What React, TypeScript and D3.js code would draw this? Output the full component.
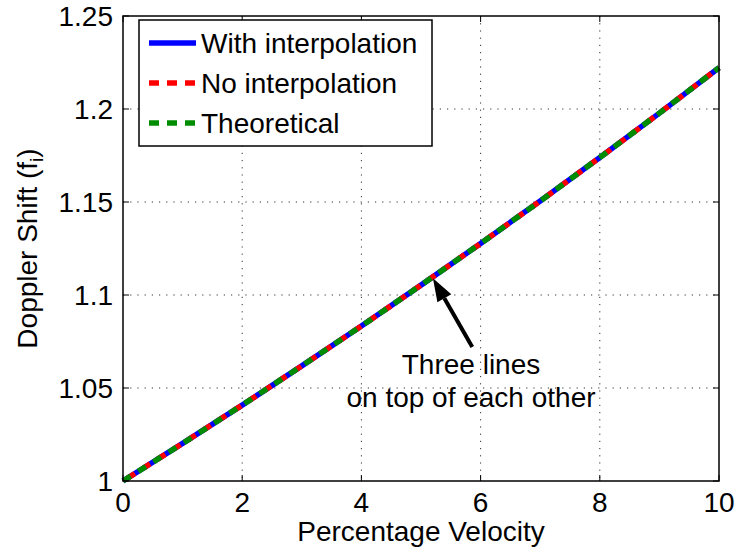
import React from "react";
import * as d3 from "d3";

const velocity = [0, 1, 2, 3, 4, 5, 6, 7, 8, 9, 10];
const withInterp = [1.0, 1.0202, 1.0408, 1.0619, 1.0833, 1.1053, 1.1277, 1.1505, 1.1739, 1.1978, 1.2222];
const noInterp = [1.0, 1.0202, 1.0408, 1.0619, 1.0833, 1.1053, 1.1277, 1.1505, 1.1739, 1.1978, 1.2222];
const theoretical = [1.0, 1.0202, 1.0408, 1.0619, 1.0833, 1.1053, 1.1277, 1.1505, 1.1739, 1.1978, 1.2222];
const xTicks = [0, 2, 4, 6, 8, 10];
const yTicks = [1, 1.05, 1.1, 1.15, 1.2, 1.25];
const yTickLabels = ["1", "1.05", "1.1", "1.15", "1.2", "1.25"];
const legendLabels = ["With interpolation", "No interpolation", "Theoretical"];

const W = 737, H = 549;
const L = 123, R = 719, T = 16, B = 481;
const FONT = "Liberation Sans, Arial, Helvetica, sans-serif";
const FS = 28;

export default function App() {
  const x = d3.scaleLinear().domain([0, 10]).range([L, R]);
  const y = d3.scaleLinear().domain([1, 1.25]).range([B, T]);
  const line = d3.line<number>().x((_, i) => x(velocity[i])).y((d) => y(d));
  const tick = 6;
  const arrowTip = [x(5.2), y(1.109)];
  const arrowTail = [x(5.86), y(1.072)];
  const ang = Math.atan2(arrowTip[1] - arrowTail[1], arrowTip[0] - arrowTail[0]);
  const hl = 23, hw = 8;
  const bx = arrowTip[0] - hl * Math.cos(ang), by = arrowTip[1] - hl * Math.sin(ang);
  const head = [
    [arrowTip[0], arrowTip[1]],
    [bx + hw * Math.sin(ang), by - hw * Math.cos(ang)],
    [bx - hw * Math.sin(ang), by + hw * Math.cos(ang)],
  ];
  return (
    <svg width={W} height={H} style={{ position: "absolute", left: 0, top: 0, background: "#fff" }} fontFamily={FONT}>
      <rect x={0} y={0} width={W} height={H} fill="#fff" />
      {/* grid */}
      {xTicks.slice(1, -1).map((t) => (
        <line key={"gx" + t} x1={x(t)} x2={x(t)} y1={T} y2={B} stroke="#333" strokeWidth={1} strokeDasharray="1.2 6" />
      ))}
      {yTicks.slice(1, -1).map((t) => (
        <line key={"gy" + t} x1={L} x2={R} y1={y(t)} y2={y(t)} stroke="#333" strokeWidth={1} strokeDasharray="1.2 6" />
      ))}
      {/* data lines */}
      <path d={line(withInterp) || ""} fill="none" stroke="#0000ff" strokeWidth={5.5} />
      <path d={line(noInterp) || ""} fill="none" stroke="#ff0000" strokeWidth={5.5} strokeDasharray="9 9" strokeDashoffset={-5} />
      <path d={line(theoretical) || ""} fill="none" stroke="#008c00" strokeWidth={5.5} strokeDasharray="9 9" />
      {/* axes box */}
      <rect x={L} y={T} width={R - L} height={B - T} fill="none" stroke="#000" strokeWidth={1.5} />
      {xTicks.map((t) => (
        <g key={"xt" + t}>
          <line x1={x(t)} x2={x(t)} y1={B} y2={B - tick} stroke="#000" />
          <line x1={x(t)} x2={x(t)} y1={T} y2={T + tick} stroke="#000" />
          <text x={x(t)} y={B + 31} fontSize={FS} textAnchor="middle">{t}</text>
        </g>
      ))}
      {yTicks.map((t, i) => (
        <g key={"yt" + t}>
          <line x1={L} x2={L + tick} y1={y(t)} y2={y(t)} stroke="#000" />
          <line x1={R} x2={R - tick} y1={y(t)} y2={y(t)} stroke="#000" />
          <text x={L - 10} y={y(t) + 10} fontSize={FS} textAnchor="end">{yTickLabels[i]}</text>
        </g>
      ))}
      <text x={(L + R) / 2} y={541} fontSize={FS} textAnchor="middle">Percentage Velocity</text>
      <text transform={`translate(37,${(T + B) / 2}) rotate(-90)`} fontSize={FS} textAnchor="middle">
        Doppler Shift (f<tspan fontSize={19} dy={6}>i</tspan><tspan dy={-6}>)</tspan>
      </text>
      {/* legend */}
      <rect x={139} y={20} width={293} height={126} fill="#fff" stroke="#000" strokeWidth={1.5} />
      {legendLabels.map((lab, i) => {
        const cy = 43 + i * 40;
        const colors = ["#0000ff", "#ff0000", "#008c00"];
        return (
          <g key={lab}>
            <line x1={149} x2={196} y1={cy} y2={cy} stroke={colors[i]} strokeWidth={5.5} strokeDasharray={i === 0 ? undefined : "10 8"} />
            <text x={201} y={cy + 10} fontSize={FS}>{lab}</text>
          </g>
        );
      })}
      {/* annotation */}
      <line x1={arrowTail[0]} y1={arrowTail[1]} x2={bx} y2={by} stroke="#000" strokeWidth={4} />
      <polygon points={head.map((p) => p.join(",")).join(" ")} fill="#000" />
      <text x={471} y={374} fontSize={FS} textAnchor="middle">Three lines</text>
      <text x={471} y={407} fontSize={FS} textAnchor="middle">on top of each other</text>
    </svg>
  );
}
